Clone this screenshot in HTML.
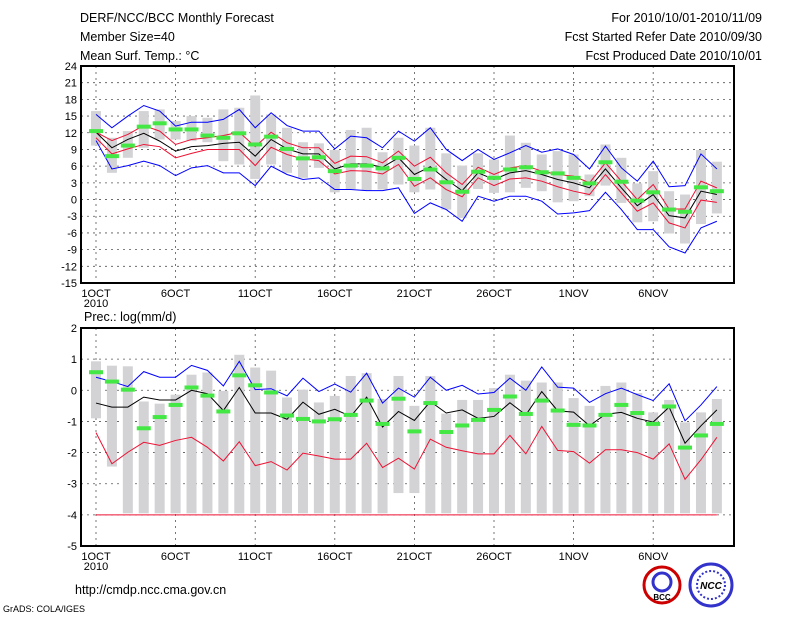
<!DOCTYPE html>
<html><head><meta charset="utf-8"><style>
body{margin:0;background:#fff;width:800px;height:618px;overflow:hidden}
svg{display:block}
text{font-family:"Liberation Sans",sans-serif;fill:#000}
</style></head><body>
<svg id="c" width="800" height="618">
<g font-size="12.5">
<text x="80" y="22">DERF/NCC/BCC Monthly Forecast</text>
<text x="80" y="41">Member Size=40</text>
<text x="80" y="60">Mean Surf. Temp.: °C</text>
<text x="762" y="22" text-anchor="end">For 2010/10/01-2010/11/09</text>
<text x="762" y="41" text-anchor="end">Fcst Started Refer Date 2010/09/30</text>
<text x="762" y="60" text-anchor="end">Fcst Produced Date 2010/10/01</text>
</g>
<text x="84" y="321" font-size="12.5">Prec.: log(mm/d)</text>
<text x="75" y="594" font-size="12.5">http://cmdp.ncc.cma.gov.cn</text>
<text x="3" y="612" font-size="9">GrADS: COLA/IGES</text>
<g><circle cx="662" cy="585" r="18" fill="#fff" stroke="#c00" stroke-width="3"/><circle cx="662" cy="582" r="9" fill="none" stroke="#33c" stroke-width="3"/><text x="662" y="600" font-size="8" text-anchor="middle" font-weight="bold">BCC</text></g>
<g><circle cx="711" cy="585" r="21" fill="#fff" stroke="#33c" stroke-width="3"/><circle cx="711" cy="585" r="14" fill="none" stroke="#33c" stroke-width="2" stroke-dasharray="2 2"/><text x="711" y="589" font-size="10" text-anchor="middle" font-style="italic" font-weight="bold" fill="#33c">NCC</text></g>
</svg>
<script>
const dayLabels=["1OCT","6OCT","11OCT","16OCT","21OCT","26OCT","1NOV","6NOV"];
const tTicks=[-15,-12,-9,-6,-3,0,3,6,9,12,15,18,21,24];
const pTicks=[-5,-4,-3,-2,-1,0,1,2];
const tMean=[12.1,9.3,10.8,11.9,10.5,8.7,9.5,9.7,10.1,10.3,7.8,10.8,9.1,8.2,8.2,5.5,6.4,6.4,5.8,7.5,4.5,5.9,3.6,1.6,4.8,3.6,4.8,5.2,4.5,3.6,3.0,2.1,5.5,2.1,-1.1,0.9,-2.9,-3.3,1.5,0.9];
const tRedHi=[12.1,10.6,11.7,13.3,12.3,9.9,10.8,11.1,11.5,12.1,9.5,12.1,10.2,9.3,9.3,6.5,7.8,7.7,6.6,8.7,6.0,7.6,4.8,2.7,5.8,4.5,5.7,6.1,5.1,4.5,4.2,3.0,6.6,3.3,0,2.7,-1.7,-1.7,3.3,2.1];
const tRedLo=[11.1,8.2,9.1,9.9,9.5,7.5,8.3,9.0,9.0,9.0,6.1,9.4,8.1,7.3,7.0,4.6,5.2,5.1,4.6,6.3,2.4,3.9,1.8,0.5,3.9,2.5,3.7,3.9,3.3,2.3,1.5,0.9,4.5,1.2,-2.1,-0.6,-4.2,-5.1,-0.1,-0.5];
const tBlueHi=[15.3,12.9,15.0,16.9,15.9,13.2,13.9,13.9,14.4,16.2,12.9,15.6,13.3,12.3,12.3,9.1,11.4,11.1,9.3,12.3,10.5,12.9,9.0,7.0,9.0,7.2,8.4,9.7,8.5,9.1,8.1,5.5,9.6,5.7,3.3,6.9,2.3,2.5,8.2,5.5];
const tBlueLo=[10.6,5.5,6.1,6.9,6.1,4.3,5.7,6.1,4.8,4.8,2.5,6.0,4.5,3.6,3.9,1.8,1.8,1.6,1.6,2.1,-2.5,-0.6,-1.8,-3.9,0.6,-0.3,0.6,0.6,-0.3,-2.6,-2.4,-2.0,1.3,-1.8,-5.4,-5.4,-8.5,-9.6,-5.1,-3.9];
const tObs=[12.3,7.8,9.7,13.1,13.7,12.6,12.6,11.5,11.1,11.9,9.9,11.3,9.1,7.4,7.6,5.1,6.1,6.1,5.6,7.5,3.7,5.4,3.1,1.4,5.0,3.9,5.4,5.8,4.9,4.7,3.9,2.9,6.7,3.2,-0.2,1.3,-1.8,-2.2,2.2,1.5];
const tMax=[15.9,11.1,12.3,15.9,16.2,14.1,15.0,14.7,16.2,16.5,18.7,15.3,12.9,10.3,10.1,8.9,12.5,12.9,8.5,11.1,9.7,12.9,8.3,6.1,8.3,7.2,11.5,10.2,8.1,8.7,8.1,4.5,9.9,7.5,2.9,5.1,1.5,0.9,8.9,6.8];
const tMin=[9.7,4.8,7.5,9.3,10.8,10.8,10.5,10.3,6.9,6.3,3.7,6.3,4.8,3.9,5.7,1.3,1.9,1.6,1.8,2.7,1.3,1.8,-1.8,-3.3,1.9,1.2,1.3,2.1,1.5,-0.5,-0.3,0.6,2.5,-0.6,-4.1,-3.9,-6.1,-7.9,-4.4,-2.5];
const pBlue=[0.42,0.28,0.12,0.6,0.42,0.42,0.8,0.64,0.14,0.93,0.02,0.05,-0.18,0.39,-0.04,0.2,-0.06,0.55,-0.41,0.07,-0.22,0.42,0,0.16,-0.12,-0.07,0.39,0,0.75,0.1,0.07,-0.39,-0.11,0.07,-0.14,-0.33,0.21,-0.98,-0.47,0.12];
const pMean=[-0.41,-0.54,-0.54,-0.22,-0.31,-0.31,0,-0.11,-0.65,0.09,-0.73,-0.73,-0.93,-0.38,-0.77,-0.61,-0.84,-0.22,-1.18,-0.68,-0.97,-0.36,-0.73,-0.63,-0.9,-0.84,-0.4,-0.79,-0.04,-0.66,-0.7,-1.14,-0.77,-0.71,-0.9,-1.02,-0.54,-1.7,-1.14,-0.63];
const pRed=[-1.36,-2.36,-1.99,-1.67,-1.77,-1.61,-1.51,-1.83,-2.27,-1.65,-2.42,-2.29,-2.56,-2.02,-2.11,-2.21,-2.21,-1.7,-2.48,-2.18,-2.53,-1.57,-1.83,-1.94,-2.04,-2.04,-1.45,-2.04,-1.16,-1.93,-1.97,-2.34,-1.91,-1.91,-2.0,-2.21,-1.72,-2.86,-2.23,-1.51];
const pObs=[0.58,0.28,0.02,-1.22,-0.86,-0.47,0.09,-0.17,-0.68,0.48,0.16,-0.07,-0.81,-0.92,-1.0,-0.93,-0.79,-0.33,-1.08,-0.27,-1.32,-0.41,-1.34,-1.13,-0.95,-0.63,-0.2,-0.76,-0.33,-0.65,-1.11,-1.13,-0.79,-0.47,-0.73,-1.08,-0.52,-1.84,-1.45,-1.08];
const pMax=[0.93,0.79,0.77,-0.36,-0.43,-0.14,0.5,0.57,-0.02,1.14,0.73,0.63,-0.23,0.02,-0.39,-0.18,0.46,0.55,-0.28,0.46,-0.5,0.46,-0.75,-0.31,-0.31,0.07,0.5,0.31,0.25,0.25,-0.25,-0.5,0.14,0.25,-0.09,-0.71,-0.31,-1.03,-0.71,-0.28];
const pMin=[-0.9,-2.45,-3.95,-3.95,-3.95,-3.95,-3.95,-3.95,-3.95,-3.95,-3.95,-3.95,-3.95,-3.95,-3.95,-3.95,-3.95,-3.95,-3.95,-3.3,-3.3,-3.95,-3.95,-3.95,-3.95,-3.95,-3.95,-3.95,-3.95,-3.95,-3.95,-3.95,-3.95,-3.95,-3.95,-3.95,-3.95,-3.95,-3.95,-3.95];
const pFloor=-4;

const svg=document.getElementById('c');
const NS='http://www.w3.org/2000/svg';
function mk(tag,attrs,parent){const e=document.createElementNS(NS,tag);for(const k in attrs)e.setAttribute(k,attrs[k]);(parent||svg).appendChild(e);return e;}
const X=d=>96+15.92*d;
function panel(name,top,bot,vmin,vmax,ticks){
  const g=mk('g',{});
  
  
  const Y=v=>bot-(v-vmin)/(vmax-vmin)*(bot-top);
  ticks.forEach(t=>{
    const l=mk('line',{x1:81,x2:734,y1:Y(t),y2:Y(t),stroke:'#555','stroke-width':0.8,'stroke-dasharray':'2 4'},g);
    
    
    const tx=mk('text',{x:77,y:Y(t)+4,'text-anchor':'end','font-size':11},g);
    
    
    tx.textContent=t;
  });
  dayLabels.forEach((s,i)=>{
    const x=X(i*5);
    const l=mk('line',{x1:x,x2:x,y1:top,y2:bot,stroke:'#555','stroke-width':0.8,'stroke-dasharray':'2 4'},g);
    
    
    const tx=mk('text',{x:x,y:bot+14,'text-anchor':'middle','font-size':11},g);
    
    
    tx.textContent=s;
  });
  const yr=mk('text',{x:X(0),y:bot+24,'text-anchor':'middle','font-size':11},g);
  
  
  yr.textContent='2010';
  return {g,Y};
}
function bars(p,mx,mn){
  mx.forEach((v,i)=>{
    const r=mk('rect',{x:X(i)-5,y:p.Y(v),width:10,height:p.Y(mn[i])-p.Y(v),fill:'#d3d3d6'},p.g);
    
    
  });
}
function line(p,arr,col,nm){
  const pl=mk('polyline',{points:arr.map((v,i)=>X(i)+','+p.Y(v)).join(' '),fill:'none',stroke:col,'stroke-width':1},p.g);
  
  
}
function obs(p,arr){
  arr.forEach((v,i)=>{
    const r=mk('rect',{x:X(i)-7,y:p.Y(v)-2,width:14,height:4,fill:'#44e844'},p.g);
    
    
  });
}
function frame(p,top,bot){
  const r=mk('rect',{x:81,y:top,width:653,height:bot-top,fill:'none',stroke:'#000','stroke-width':2},p.g);
  
  
}
const P1=panel('temperature-panel',66,283,-15,24,tTicks);
bars(P1,tMax,tMin);
line(P1,tBlueHi,'#0000ff','blue-upper-line');
line(P1,tBlueLo,'#0000ff','blue-lower-line');
line(P1,tRedHi,'#ee1133','red-upper-line');
line(P1,tRedLo,'#ee1133','red-lower-line');
line(P1,tMean,'#000','mean-line');
obs(P1,tObs);
frame(P1,66,283);
const P2=panel('precip-panel',328,546,-5,2,pTicks);
bars(P2,pMax,pMin);
line(P2,pObs.map(()=>pFloor),'#ee1133','red-floor-line');
line(P2,pBlue,'#0000ff','blue-upper-line');
line(P2,pRed,'#ee1133','red-lower-line');
line(P2,pMean,'#000','mean-line');
obs(P2,pObs);
frame(P2,328,546);
</script>
</body></html>
